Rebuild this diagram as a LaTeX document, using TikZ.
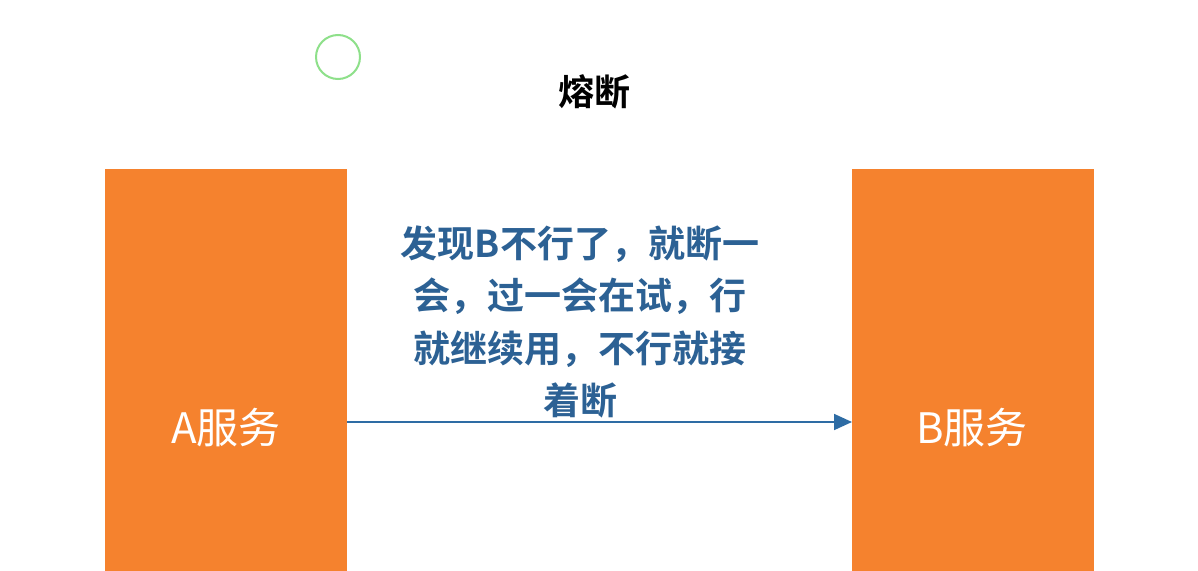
\documentclass[tikz,border=0pt]{standalone}
\usepackage{fontspec}
\newfontfamily\cjk{Noto Sans CJK SC}
\newfontfamily\cjkb{Noto Sans CJK SC Bold}
\definecolor{svcorange}{HTML}{F5822E}
\definecolor{txtblue}{HTML}{2C6194}
\definecolor{arrowblue}{HTML}{2E6CA4}
\definecolor{cursorgreen}{HTML}{8EE08A}
\usetikzlibrary{arrows.meta}
\begin{document}
\begin{tikzpicture}[x=1pt,y=-1pt,
  svc/.style={fill=svcorange, draw=none, minimum width=242pt, minimum height=402pt, inner sep=0pt},
  svclabel/.style={text=white, font=\cjk\fontsize{42}{48}\selectfont},
  conn/.style={draw=arrowblue, line width=1.8pt, -{Triangle[length=18pt,width=16pt]}},
  note/.style={text=txtblue, font=\cjkb\fontsize{37}{52.5}\selectfont, align=center, text width=400pt}]
\useasboundingbox (0,0) rectangle (1198,570);
\fill[white] (0,0) rectangle (1198,570);
\node[draw=cursorgreen, line width=2pt, circle, minimum size=44pt, inner sep=0pt] (cursor) at (338,57) {};
\node[font=\cjkb\fontsize{36}{40}\selectfont, text=black] (title) at (594,92) {熔断};
\node[svc, anchor=north west] (A) at (105,169) {};
\node[svc, anchor=north west] (B) at (852,169) {};
\node[svclabel] (Alab) at (226,428) {A服务};
\node[svclabel] (Blab) at (972,428) {B服务};
\coordinate (aout) at (A.east |- 0,422);
\coordinate (bin) at (B.west |- 0,422);
\draw[conn] (aout) -- (bin);
\node[note] (msg) at (580,322) {发现B不行了，就断一\\会，过一会在试，行\\就继续用，不行就接\\着断};
\end{tikzpicture}
\end{document}
